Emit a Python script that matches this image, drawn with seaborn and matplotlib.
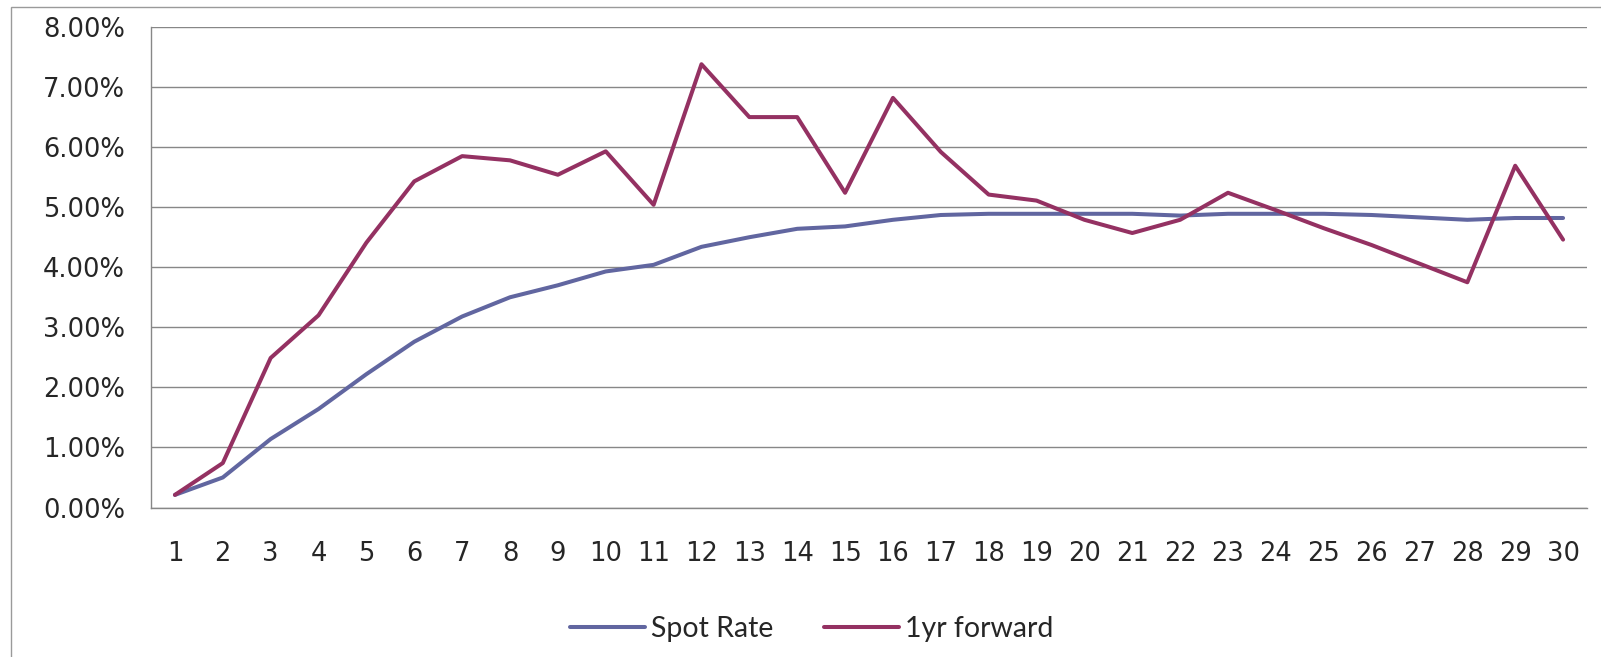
import matplotlib
matplotlib.use("Agg")
import matplotlib.pyplot as plt
import seaborn as sns
import pandas as pd
import numpy as np
from matplotlib.ticker import FixedLocator, PercentFormatter
from matplotlib.patches import Rectangle

years = list(range(1, 31))
spot_rate = [0.21, 0.50, 1.14, 1.64, 2.22, 2.76, 3.18, 3.50, 3.70, 3.93,
             4.04, 4.34, 4.50, 4.64, 4.68, 4.79, 4.87, 4.89, 4.89, 4.89,
             4.89, 4.86, 4.89, 4.89, 4.89, 4.87, 4.83, 4.79, 4.82, 4.82]
fwd_1yr = [0.21, 0.74, 2.49, 3.20, 4.41, 5.43, 5.85, 5.78, 5.54, 5.93,
           5.04, 7.38, 6.50, 6.50, 5.24, 6.82, 5.92, 5.21, 5.11, 4.79,
           4.57, 4.79, 5.24, 4.95, 4.65, 4.37, 4.06, 3.75, 5.69, 4.46]
series_names = ["Spot Rate", "1yr forward"]
colors = ["#6166A0", "#943162"]

df = pd.DataFrame({
    "year": years * 2,
    "rate": spot_rate + fwd_1yr,
    "series": [series_names[0]] * 30 + [series_names[1]] * 30,
})

sns.set_style("white")
plt.rcParams["font.family"] = ["DejaVu Sans"]

fig = plt.figure(figsize=(16.01, 6.57), dpi=100)
# plot area: x 151..1587 px, y 27..507 px
ax = fig.add_axes([151 / 1601, 1 - 507.5 / 657, 1436 / 1601, 480.5 / 657])

sns.lineplot(data=df, x="year", y="rate", hue="series", palette=colors,
             hue_order=series_names, linewidth=2.9, ax=ax, legend=True)

ax.set_xlim(0.5, 30.5)
ax.set_ylim(0, 8)
ax.yaxis.set_major_locator(FixedLocator(np.arange(0, 9, 1)))
ax.yaxis.set_major_formatter(PercentFormatter(decimals=2))
ax.set_xticks(years)
ax.set_xticklabels([str(y) for y in years])
ax.xaxis.set_minor_locator(FixedLocator(np.arange(0.5, 31, 1)))
ax.tick_params(axis="x", which="major", length=0, pad=24, labelsize=18.5)
ax.tick_params(axis="x", which="minor", length=6, width=1, color="#878787", direction="out")
ax.tick_params(axis="y", which="major", length=7.7, width=1, color="#878787",
               direction="out", labelsize=18.5, pad=11)
ax.grid(axis="y", color="#878787", linewidth=1)
ax.set_axisbelow(True)
for side in ["top", "right"]:
    ax.spines[side].set_visible(False)
for side in ["left", "bottom"]:
    ax.spines[side].set_color("#878787")
    ax.spines[side].set_linewidth(1)
ax.set_xlabel("")
ax.set_ylabel("")

leg = ax.legend(loc="center", bbox_to_anchor=(0.507, 0.043), bbox_transform=fig.transFigure,
                ncol=2, frameon=False, handlelength=2.63, columnspacing=1.76,
                handletextpad=0.22, prop={"family": "Lato", "size": 20.5})
for line in leg.get_lines():
    line.set_linewidth(2.9)

fig.patches.append(Rectangle((11 / 1601, -0.05), 1.1, 1 - 7 / 657 + 0.05,
                             transform=fig.transFigure, fill=False,
                             edgecolor="#9a9a9a", linewidth=1))

fig.savefig("out.png", dpi=100)
